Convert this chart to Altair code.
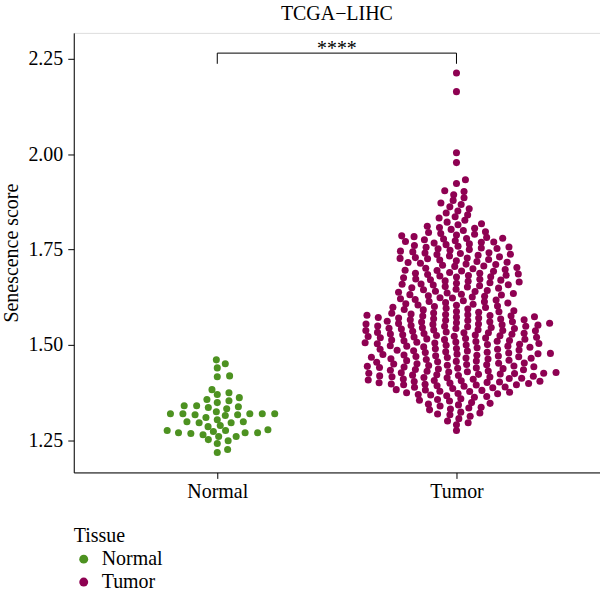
import altair as alt
import numpy as np
import pandas as pd

# ---------------- data ----------------
groups = ["Normal", "Tumor"]
colors = ["#4D9221", "#8E0152"]

normal_scores = [
    1.325, 1.296, 1.299, 1.336, 1.310, 1.317, 1.260, 1.265, 1.268, 1.242,
    1.370, 1.341, 1.317, 1.270, 1.451, 1.419, 1.349, 1.320, 1.276, 1.252,
    1.461, 1.383, 1.357, 1.320, 1.278, 1.289, 1.218, 1.440, 1.417, 1.375,
    1.354, 1.320, 1.286, 1.249, 1.226, 1.276, 1.320, 1.362, 1.341, 1.320,
    1.273, 1.270, 1.270, 1.260, 1.338, 1.315, 1.304, 1.299, 1.296, 1.333,
]

tumor_scores = [
    2.213, 2.164, 2.004, 1.978, 1.933, 1.923, 1.904, 1.902, 1.894,
    1.886, 1.879, 1.872, 1.868,
    1.862, 1.857, 1.851, 1.846, 1.841,
    1.836, 1.833, 1.827, 1.822, 1.818, 1.815,
    1.811, 1.808, 1.806, 1.803, 1.800, 1.797, 1.795, 1.792, 1.790, 1.788,
    1.786, 1.784, 1.782, 1.780, 1.779, 1.778, 1.776, 1.773, 1.771, 1.770, 1.769, 1.767, 1.765, 1.763, 1.761,
    1.759, 1.757, 1.756, 1.754, 1.753, 1.752, 1.750, 1.748, 1.746, 1.744, 1.742, 1.741, 1.740, 1.738, 1.737, 1.735,
    1.733, 1.731, 1.729, 1.728, 1.727, 1.726, 1.724, 1.723, 1.721, 1.719, 1.717, 1.716, 1.714, 1.712, 1.711, 1.709,
    1.707, 1.706, 1.703, 1.701, 1.700, 1.698, 1.696, 1.695, 1.694, 1.693, 1.690, 1.688, 1.688, 1.686, 1.685, 1.683, 1.682,
    1.681, 1.679, 1.678, 1.676, 1.673, 1.672, 1.671, 1.670, 1.668, 1.667, 1.665, 1.663, 1.662, 1.660, 1.659, 1.658, 1.657,
    1.655, 1.653, 1.652, 1.650, 1.649, 1.646, 1.645, 1.643, 1.641, 1.640, 1.638, 1.636, 1.635, 1.633, 1.632, 1.631,
    1.629, 1.628, 1.626, 1.624, 1.623, 1.621, 1.619, 1.618, 1.616, 1.614, 1.613, 1.611, 1.610, 1.608, 1.607, 1.605, 1.604,
    1.602, 1.601, 1.599, 1.598, 1.596, 1.594, 1.593, 1.592, 1.590, 1.588, 1.587, 1.586, 1.584, 1.583, 1.581, 1.580, 1.579, 1.578,
    1.577, 1.576, 1.576, 1.574, 1.573, 1.572, 1.571, 1.571, 1.569, 1.568, 1.566, 1.566, 1.565, 1.564,
    1.562, 1.561, 1.561, 1.560, 1.558, 1.557, 1.556, 1.555, 1.555, 1.554, 1.553, 1.552, 1.551,
    1.550, 1.549, 1.549, 1.548, 1.546, 1.545, 1.544, 1.543, 1.543, 1.542, 1.540, 1.539, 1.538, 1.538,
    1.537, 1.536, 1.534, 1.533, 1.532, 1.532, 1.531, 1.530, 1.529, 1.528, 1.527, 1.526, 1.525,
    1.524, 1.523, 1.522, 1.521, 1.520, 1.519, 1.518, 1.517, 1.516, 1.515, 1.514, 1.513, 1.512, 1.511,
    1.510, 1.509, 1.508, 1.507, 1.506, 1.505, 1.504, 1.503, 1.502, 1.501, 1.500, 1.499,
    1.498, 1.497, 1.497, 1.495, 1.494, 1.493, 1.491, 1.490, 1.489, 1.489, 1.487, 1.486, 1.485, 1.484, 1.482, 1.481,
    1.480, 1.479, 1.478, 1.477, 1.476, 1.475, 1.474, 1.473,
    1.472, 1.471, 1.470, 1.469, 1.468, 1.467, 1.466, 1.465, 1.464, 1.463, 1.462, 1.460, 1.459,
    1.458, 1.457, 1.456, 1.455, 1.453, 1.452, 1.451, 1.450, 1.449, 1.448, 1.447, 1.446,
    1.445, 1.444, 1.443, 1.442, 1.441, 1.440, 1.439, 1.438, 1.437, 1.436, 1.435, 1.434, 1.432,
    1.431, 1.430, 1.429, 1.428, 1.427, 1.426, 1.426, 1.425, 1.424, 1.423, 1.422, 1.421, 1.420,
    1.419, 1.418, 1.417, 1.416, 1.415, 1.414, 1.413, 1.412, 1.411, 1.410, 1.408, 1.407, 1.406,
    1.405, 1.404, 1.403, 1.402, 1.401, 1.400, 1.399, 1.398, 1.397, 1.396, 1.396, 1.395,
    1.393, 1.392, 1.390, 1.389, 1.388, 1.386, 1.383, 1.382,
    1.381, 1.379, 1.378, 1.376, 1.375, 1.373, 1.372, 1.370, 1.369,
    1.367, 1.365, 1.363, 1.359, 1.357, 1.355, 1.353, 1.349, 1.347, 1.345, 1.343,
    1.340, 1.337, 1.335, 1.332, 1.330, 1.324, 1.322, 1.319, 1.317,
    1.313, 1.307, 1.301, 1.296, 1.291,
    1.276,
]

y_ticks = [1.25, 1.50, 1.75, 2.00, 2.25]
signif_label = "****"
bracket_top = 2.265
bracket_tip = 2.237

# ---------------- layout constants (pixels) ----------------
PLOT_W, PLOT_H = 528, 441
Y_DOMAIN = [1.166, 2.318]
X_DOMAIN = [0.4, 2.6]
PX_PER_Y = PLOT_H / (Y_DOMAIN[1] - Y_DOMAIN[0])
PX_PER_X = PLOT_W / (X_DOMAIN[1] - X_DOMAIN[0])
DOT_DX, DOT_DY = 12.5, 5.5


def swarm_offsets(values, dx, dy):
    """beeswarm 'swarm' layout: ascending priority, closest-to-centre placement."""
    ys = np.asarray(values, dtype=float) * PX_PER_Y
    order = np.argsort(ys, kind="stable")
    xs = np.zeros(len(ys))
    px, py = [], []
    for i in order:
        y = ys[i]
        near = []
        cands = [0.0]
        for xj, yj in zip(px, py):
            t = (y - yj) / dy
            if abs(t) < 1:
                w = dx * np.sqrt(1 - t * t)
                near.append((xj, w))
                cands += [xj + w, xj - w]
        best = 0.0
        for c in sorted(cands, key=lambda c: (abs(c), -c)):
            if all(abs(c - xj) >= w - 1e-9 for xj, w in near):
                best = c
                break
        xs[i] = best
        px.append(best)
        py.append(y)
    return xs


rows = []
for gi, (g, vals) in enumerate(zip(groups, [normal_scores, tumor_scores])):
    offs = swarm_offsets(vals, DOT_DX, DOT_DY)
    for v, o in zip(vals, offs):
        rows.append({"Tissue": g, "score": v, "xpos": gi + 1 + o / PX_PER_X})
df = pd.DataFrame(rows)

FONT = "Liberation Serif"

x_scale = alt.Scale(domain=X_DOMAIN, nice=False, zero=False)
y_scale = alt.Scale(domain=Y_DOMAIN, nice=False, zero=False)

points = alt.Chart(df).mark_circle(size=50, opacity=1).encode(
    x=alt.X("xpos:Q", scale=x_scale,
            axis=alt.Axis(values=[1, 2], title=None,
                          labelExpr="datum.value == 1 ? 'Normal' : 'Tumor'",
                          grid=False, tickSize=6, labelPadding=3,
                          labelFont=FONT, labelFontSize=20, labelColor="black",
                          domainColor="black", tickColor="black")),
    y=alt.Y("score:Q", scale=y_scale,
            axis=alt.Axis(values=y_ticks, format=".2f", title="Senescence score",
                          grid=False, tickSize=6, labelPadding=5,
                          labelFont=FONT, labelFontSize=20, labelColor="black",
                          titleFont=FONT, titleFontSize=20, titleFontWeight="normal",
                          titleColor="black", titlePadding=6,
                          domainColor="black", tickColor="black")),
    color=alt.Color("Tissue:N", scale=alt.Scale(domain=groups, range=colors),
                    legend=alt.Legend(orient="none", legendX=0, legendY=495,
                                      direction="vertical", title="Tissue",
                                      titleFont=FONT, titleFontSize=20,
                                      titleFontWeight="normal", titleColor="black",
                                      labelFont=FONT, labelFontSize=20, labelColor="black",
                                      symbolType="circle", symbolSize=80,
                                      symbolStrokeWidth=0, rowPadding=3,
                                      titlePadding=3, labelOffset=8)),
)

bracket_df = pd.DataFrame({
    "x": [1, 2, 1], "x2": [2, 2, 1],
    "y": [bracket_top, bracket_tip, bracket_tip],
    "y2": [bracket_top, bracket_top, bracket_top],
})
bracket = alt.Chart(bracket_df).mark_rule(color="black", strokeWidth=1).encode(
    x=alt.X("x:Q", scale=x_scale), x2="x2:Q",
    y=alt.Y("y:Q", scale=y_scale), y2="y2:Q",
)

label_df = pd.DataFrame({"x": [1.5], "y": [bracket_top], "label": [signif_label]})
label = alt.Chart(label_df).mark_text(font=FONT, fontSize=20, baseline="alphabetic",
                                      dy=2, color="black").encode(
    x=alt.X("x:Q", scale=x_scale), y=alt.Y("y:Q", scale=y_scale), text="label:N")

chart = alt.layer(points, bracket, label).properties(
    width=PLOT_W, height=PLOT_H,
    title=alt.TitleParams("TCGA−LIHC", font=FONT, fontSize=20, fontWeight="normal",
                          color="black", anchor="middle", offset=9),
    autosize=alt.AutoSizeParams(type="none"),
    padding={"left": 74, "top": 32, "right": 0, "bottom": 126},
).configure_view(stroke=None).configure(background="white")

chart.save("out.html", embed_options={"renderer": "svg", "actions": False})
